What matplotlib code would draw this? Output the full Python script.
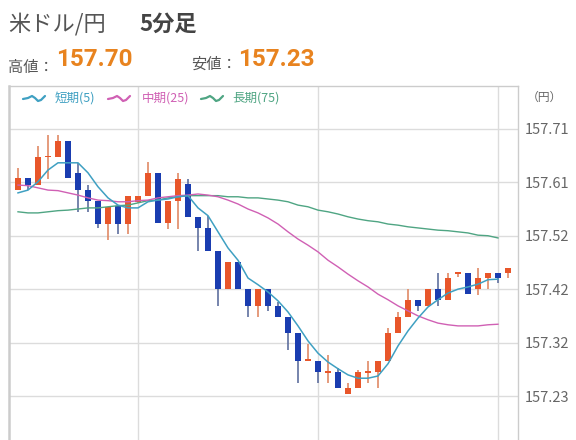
import matplotlib
matplotlib.use("Agg")
import matplotlib.pyplot as plt
from matplotlib.lines import Line2D
import numpy as np

plt.rcParams['font.family'] = ['Noto Sans CJK JP', 'DejaVu Sans']

# 5-minute USD/JPY candles
opens = [157.600, 157.622, 157.609, 157.659, 157.660, 157.688, 157.631, 157.600, 157.581, 157.539,
         157.572, 157.539, 157.579, 157.590, 157.631, 157.541, 157.581, 157.611, 157.552, 157.532,
         157.491, 157.422, 157.471, 157.422, 157.392, 157.422, 157.392, 157.372, 157.343, 157.293,
         157.293, 157.272, 157.273, 157.234, 157.244, 157.272, 157.273, 157.293, 157.343, 157.372,
         157.403, 157.392, 157.422, 157.403, 157.450, 157.451, 157.422, 157.442, 157.451, 157.451]
highs = [157.640, 157.622, 157.679, 157.699, 157.699, 157.688, 157.649, 157.609, 157.581, 157.570,
         157.572, 157.590, 157.590, 157.651, 157.631, 157.581, 157.631, 157.620, 157.552, 157.554,
         157.491, 157.471, 157.471, 157.422, 157.422, 157.422, 157.399, 157.372, 157.343, 157.323,
         157.293, 157.304, 157.280, 157.253, 157.277, 157.293, 157.293, 157.352, 157.381, 157.422,
         157.403, 157.422, 157.451, 157.451, 157.452, 157.451, 157.460, 157.451, 157.451, 157.460]
lows = [157.600, 157.600, 157.609, 157.620, 157.660, 157.622, 157.561, 157.561, 157.532, 157.510,
        157.521, 157.521, 157.577, 157.590, 157.541, 157.530, 157.530, 157.552, 157.491, 157.491,
        157.392, 157.422, 157.422, 157.372, 157.372, 157.383, 157.372, 157.313, 157.253, 157.293,
        157.253, 157.253, 157.244, 157.234, 157.244, 157.253, 157.244, 157.293, 157.343, 157.372,
        157.383, 157.392, 157.392, 157.403, 157.444, 157.413, 157.412, 157.422, 157.433, 157.442]
closes = [157.622, 157.609, 157.660, 157.661, 157.688, 157.622, 157.600, 157.581, 157.539, 157.570,
          157.539, 157.590, 157.590, 157.631, 157.541, 157.581, 157.620, 157.552, 157.532, 157.491,
          157.422, 157.471, 157.422, 157.392, 157.422, 157.392, 157.372, 157.343, 157.293, 157.297,
          157.273, 157.275, 157.244, 157.244, 157.273, 157.275, 157.293, 157.343, 157.372, 157.403,
          157.392, 157.422, 157.403, 157.442, 157.452, 157.413, 157.442, 157.451, 157.442, 157.460]

# moving averages
ma_short = [157.595, 157.600, 157.615, 157.636, 157.649, 157.649, 157.649, 157.631, 157.606, 157.586,
            157.573, 157.568, 157.568, 157.579, 157.582, 157.584, 157.588, 157.590, 157.568, 157.554,
            157.525, 157.496, 157.474, 157.442, 157.430, 157.417, 157.401, 157.381, 157.356, 157.329,
            157.307, 157.291, 157.279, 157.268, 157.262, 157.262, 157.266, 157.288, 157.320, 157.347,
            157.370, 157.390, 157.403, 157.415, 157.422, 157.426, 157.431, 157.439, 157.440]
ma_mid = [157.609, 157.608, 157.604, 157.600, 157.599, 157.595, 157.591, 157.586, 157.582, 157.581,
          157.579, 157.579, 157.581, 157.582, 157.586, 157.588, 157.590, 157.591, 157.593, 157.591,
          157.588, 157.582, 157.575, 157.566, 157.559, 157.550, 157.539, 157.525, 157.512, 157.501,
          157.489, 157.474, 157.462, 157.449, 157.437, 157.426, 157.413, 157.403, 157.392, 157.383,
          157.374, 157.367, 157.361, 157.358, 157.356, 157.356, 157.356, 157.358, 157.359]
ma_long = [157.561, 157.559, 157.559, 157.561, 157.563, 157.564, 157.566, 157.568, 157.568, 157.570,
           157.572, 157.573, 157.577, 157.581, 157.582, 157.586, 157.588, 157.590, 157.590, 157.590,
           157.590, 157.588, 157.588, 157.586, 157.586, 157.584, 157.582, 157.579, 157.573, 157.570,
           157.564, 157.561, 157.557, 157.552, 157.548, 157.545, 157.543, 157.539, 157.537, 157.534,
           157.532, 157.530, 157.528, 157.527, 157.525, 157.523, 157.519, 157.518, 157.514]

ytick_vals = [157.710, 157.614, 157.518, 157.422, 157.326, 157.230]
ytick_labels = ['157.71', '157.61', '157.52', '157.42', '157.32', '157.23']
vgrid = [12, 30, 48]

UP = '#e8562a'
DOWN = '#1a3db0'
C_SHORT = '#3fa0c2'
C_MID = '#d060b4'
C_LONG = '#4fa583'
GRID = '#dcdcdc'

W, H = 576, 440
fig = plt.figure(figsize=(W / 100, H / 100), dpi=100)
fig.patch.set_facecolor('white')

def fx(px):
    return px / W

def fy(py):
    return 1 - py / H

# header
fig.text(fx(8), fy(24), '米ドル/円', fontsize=16, color='#555555', va='center', ha='left')
fig.text(fx(139), fy(24), '5分足', fontsize=16, color='#444444', va='center', ha='left',
         fontweight='bold')
fig.text(fx(8), fy(67), '高値：', fontsize=11, color='#555555', va='center', ha='left')
fig.text(fx(56), fy(60), '157.70', fontsize=17.5, color='#e8831f', va='center', ha='left',
         fontweight='bold', family=['Roboto', 'DejaVu Sans'])
fig.text(fx(191), fy(64), '安値：', fontsize=11, color='#555555', va='center', ha='left')
fig.text(fx(238), fy(59), '157.23', fontsize=17.5, color='#e8831f', va='center', ha='left',
         fontweight='bold', family=['Roboto', 'DejaVu Sans'])

ax = fig.add_axes([fx(9), 0, fx(518) - fx(9), fy(86)])
ax.set_xlim(-0.9, 50.0)
ax.set_ylim(157.151, 157.787)

# grid
ax.set_yticks(ytick_vals)
ax.set_yticklabels(ytick_labels)
ax.set_xticks(vgrid)
ax.set_xticklabels([])
ax.grid(True, color=GRID, linewidth=1.0)
ax.set_axisbelow(True)
ax.yaxis.tick_right()
ax.tick_params(axis='y', length=0, pad=5, labelsize=10.5, labelcolor='#666666')
ax.tick_params(axis='x', length=0)
for s in ['left', 'top', 'right']:
    ax.spines[s].set_color('#cccccc')
    ax.spines[s].set_linewidth(1.0)
ax.spines['left'].set_linewidth(1.8)
ax.spines['bottom'].set_visible(False)

# candles
x = np.arange(len(opens))
o = np.array(opens)
c = np.array(closes)
up = c >= o
colors = np.where(up, UP, DOWN)
wick_colors = np.where(up, '#e08a66', '#5f6f9e')
ax.vlines(x, lows, highs, colors=wick_colors, linewidth=1.2, zorder=2)
body_low = np.minimum(o, c)
body_h = np.maximum(np.abs(c - o), 0.0025)
ax.bar(x, body_h, bottom=body_low, width=0.68, color=colors, zorder=3, linewidth=0)

# moving averages
xm = np.arange(len(ma_short))
ax.plot(xm, ma_long, color=C_LONG, linewidth=1.0, zorder=4)
ax.plot(xm, ma_mid, color=C_MID, linewidth=1.0, zorder=4)
ax.plot(xm, ma_short, color=C_SHORT, linewidth=1.1, zorder=5)

# legend row: small wave icon + label
icon_dx = np.array([0, 5, 9, 12, 15, 18, 22])
icon_dy = np.array([-1, 0, 2, 0, -3, -2, 2])
legend_items = [('短期(5)', C_SHORT, 23, 55), ('中期(25)', C_MID, 108, 142),
                ('長期(75)', C_LONG, 201, 232)]
for label, col, ix, tx in legend_items:
    fig.add_artist(Line2D(fx(ix + icon_dx), fy(98 - icon_dy), color=col, linewidth=1.6,
                          solid_joinstyle='round', solid_capstyle='round'))
    fig.text(fx(tx), fy(98), label, fontsize=9, color=col, va='center', ha='left')

fig.text(fx(527), fy(97), '（円）', fontsize=8.5, color='#666666', va='center', ha='left')

fig.savefig('out.png', dpi=100, facecolor='white')
